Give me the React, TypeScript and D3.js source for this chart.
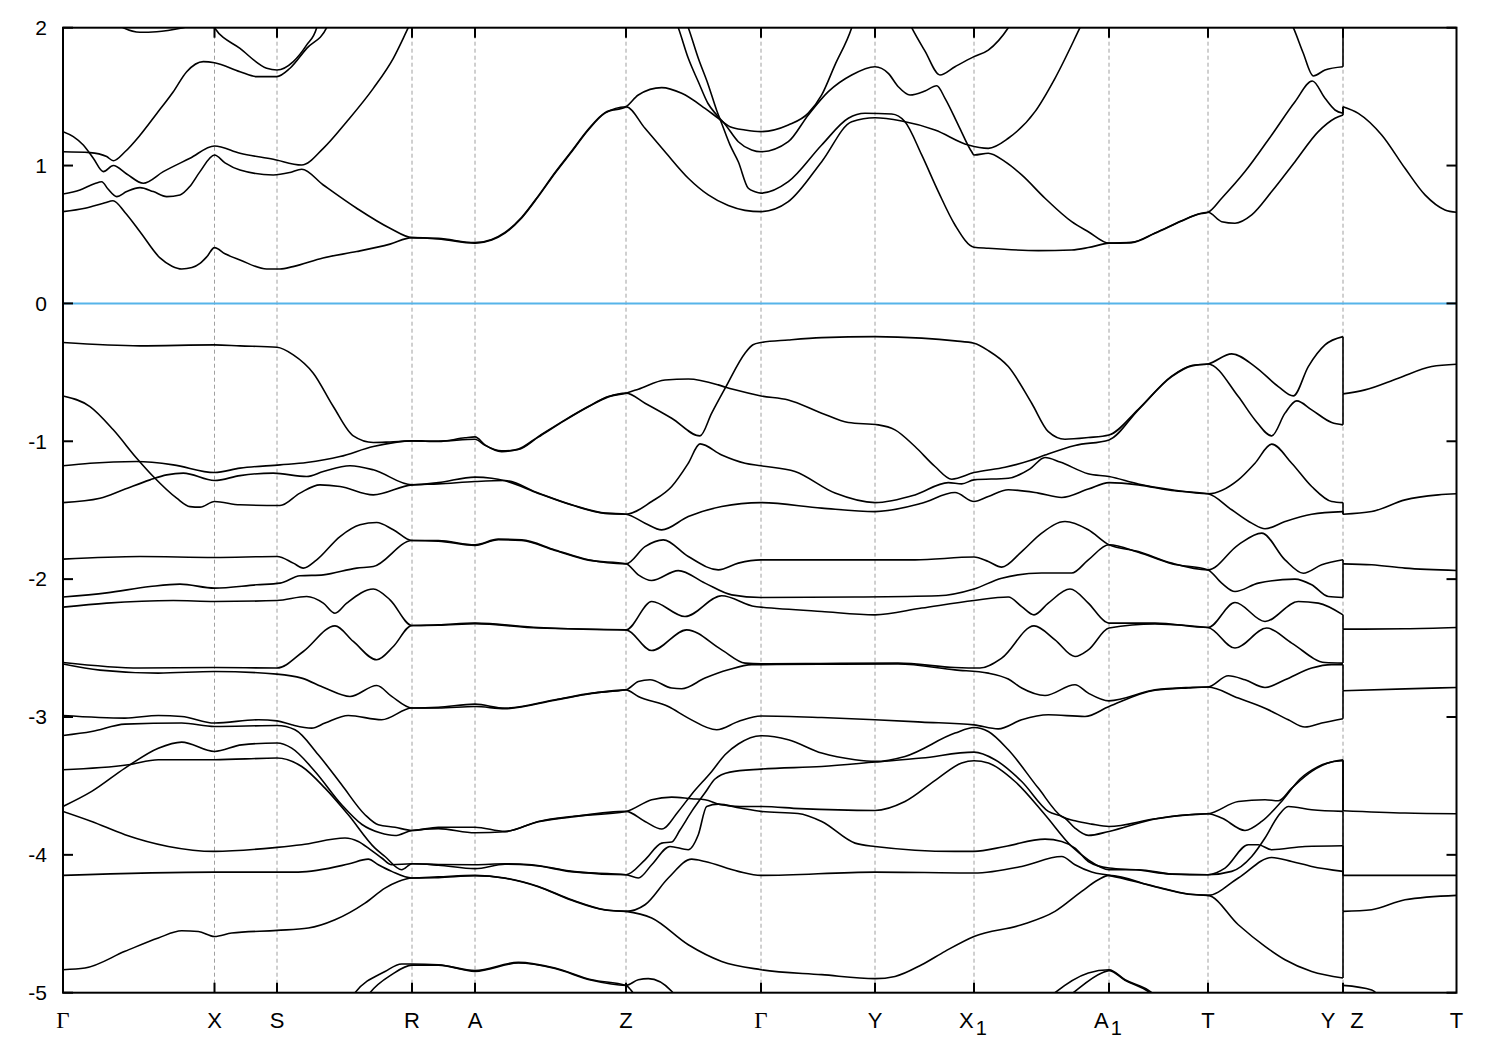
import React from 'react';
import * as d3 from 'd3';

type P = [number, number];

// High-symmetry points along the k-path (path length units)
const kPointPositions = [0, 1.515, 2.14, 3.49, 4.12, 5.63, 6.98, 8.12, 9.11, 10.46, 11.45, 12.8, 13.935];
const kPointLabels = ['Γ', 'X', 'S', 'R', 'A', 'Z', 'Γ', 'Y', 'X_1', 'A_1', 'T', 'Y|Z', 'T'];
const energyTicks = [2, 1, 0, -1, -2, -3, -4, -5];
const energyDomain: [number, number] = [-5, 2];

// Conduction bands (k, E in eV)
const conductionBands: P[][] = [
  [[0,0.666],[0.22,0.69],[0.42,0.73],[0.5,0.745],[0.62,0.66],[0.77,0.52],[0.97,0.33],[1.09,0.27],[1.187,0.25],[1.29,0.26],[1.37,0.29],[1.44,0.34],[1.515,0.405],[1.62,0.36],[1.77,0.315],[2.037,0.25],[2.17,0.25],[2.3,0.267],[2.6,0.33],[2.937,0.376],[3.27,0.43],[3.49,0.477],[3.753,0.468],[4.12,0.437],[4.287,0.46],[4.42,0.51],[4.587,0.62],[4.753,0.775],[4.92,0.944],[5.087,1.1],[5.253,1.258],[5.42,1.38],[5.63,1.427],[5.82,1.27],[6.02,1.1],[6.253,0.908],[6.453,0.787],[6.653,0.71],[6.82,0.675],[6.98,0.666],[7.253,0.738],[7.587,1.028],[7.887,1.318],[8.12,1.347],[8.387,1.323],[8.72,1.258],[9.053,1.149],[9.253,1.125],[9.453,1.198],[9.72,1.391],[9.92,1.633],[10.17,2.0],[10.27,2.15]],
  [[0,0.794],[0.17,0.823],[0.32,0.87],[0.387,0.883],[0.45,0.83],[0.537,0.775],[0.637,0.811],[0.77,0.84],[0.903,0.811],[1.037,0.775],[1.17,0.787],[1.27,0.85],[1.37,0.956],[1.515,1.077],[1.62,1.02],[1.77,0.968],[2.103,0.932],[2.27,0.95],[2.387,0.973],[2.603,0.859],[2.937,0.69],[3.27,0.545],[3.49,0.477],[3.753,0.472],[4.12,0.441],[4.287,0.464],[4.42,0.515],[4.587,0.625],[4.753,0.78],[4.92,0.95],[5.087,1.106],[5.253,1.263],[5.42,1.384],[5.63,1.427],[5.753,1.512],[5.987,1.565],[6.187,1.524],[6.42,1.415],[6.553,1.343],[6.67,1.282],[6.82,1.258],[6.98,1.246],[7.253,1.294],[7.453,1.38],[7.587,1.512],[7.72,1.73],[7.887,2.0],[7.95,2.15]],
  [[6.07,2.15],[6.153,2.0],[6.253,1.778],[6.353,1.608],[6.45,1.45],[6.537,1.367],[6.62,1.3],[6.753,1.173],[6.887,1.113],[6.98,1.1],[7.253,1.173],[7.453,1.367],[7.653,1.536],[7.887,1.657],[8.12,1.717],[8.253,1.669],[8.353,1.572],[8.47,1.512],[8.62,1.541],[8.737,1.579],[8.82,1.488],[8.953,1.294],[9.087,1.1],[9.11,1.077],[9.253,1.089],[9.42,1.028],[9.587,0.932],[9.82,0.763],[10.087,0.593],[10.253,0.52],[10.46,0.437],[10.687,0.441],[10.92,0.509],[11.187,0.598],[11.353,0.647],[11.45,0.661],[11.587,0.763],[11.82,0.956],[12.087,1.222],[12.32,1.463],[12.493,1.613],[12.62,1.488],[12.72,1.403],[12.8,1.379]],
  [[6.17,2.15],[6.253,2.0],[6.353,1.778],[6.453,1.585],[6.537,1.4],[6.59,1.3],[6.67,1.15],[6.753,1.028],[6.853,0.835],[6.92,0.81],[6.98,0.8],[7.253,0.883],[7.587,1.149],[7.853,1.343],[8.02,1.379],[8.287,1.374],[8.42,1.318],[8.587,1.077],[8.753,0.811],[8.92,0.569],[9.11,0.408],[9.253,0.4],[9.753,0.383],[10.087,0.388],[10.253,0.405],[10.46,0.437],[10.687,0.443],[10.92,0.511],[11.187,0.6],[11.353,0.649],[11.45,0.661],[11.587,0.593],[11.72,0.582],[11.887,0.642],[12.087,0.811],[12.32,1.028],[12.553,1.246],[12.72,1.343],[12.8,1.367]],
  [[0,1.246],[0.103,1.21],[0.203,1.149],[0.303,1.053],[0.403,0.956],[0.503,1.0],[0.637,0.939],[0.803,0.872],[1.003,0.956],[1.27,1.053],[1.515,1.142],[1.77,1.089],[2.103,1.046],[2.387,1.004],[2.603,1.125],[2.837,1.318],[3.103,1.56],[3.303,1.778],[3.453,2.0],[3.52,2.1]],
  [[0,1.1],[0.27,1.094],[0.437,1.065],[0.503,1.035],[0.62,1.1],[0.77,1.22],[0.94,1.38],[1.103,1.536],[1.237,1.681],[1.403,1.754],[1.515,1.746],[1.77,1.681],[1.937,1.645],[2.137,1.645],[2.27,1.706],[2.437,1.85],[2.637,2.0],[2.69,2.1]],
  [[1.45,2.08],[1.515,2.0],[1.77,1.85],[2.037,1.706],[2.14,1.693],[2.303,1.754],[2.437,1.875],[2.537,2.0],[2.57,2.1]],
  [[0.55,2.02],[0.603,2.0],[0.77,1.967],[0.937,1.971],[1.203,2.0],[1.27,2.01]],
  [[8.42,2.1],[8.487,2.0],[8.62,1.83],[8.77,1.657],[8.92,1.717],[9.11,1.79],[9.253,1.838],[9.453,2.0],[9.52,2.08]],
  [[12.27,2.05],[12.303,2.0],[12.4,1.82],[12.503,1.65],[12.62,1.693],[12.8,1.717]],
];

// Valence bands (k, E in eV)
const valenceBands: P[][] = [
  [[0,-0.284],[0.77,-0.308],[1.515,-0.301],[1.77,-0.308],[2.14,-0.318],[2.303,-0.373],[2.503,-0.506],[2.703,-0.748],[2.903,-0.961],[3.103,-1.009],[3.27,-1.005],[3.49,-0.997],[3.753,-1.002],[4.02,-0.975],[4.12,-0.968],[4.22,-1.026],[4.387,-1.075],[4.553,-1.057],[4.753,-0.966],[5.02,-0.845],[5.253,-0.748],[5.453,-0.676],[5.63,-0.651],[5.753,-0.622],[6.02,-0.555],[6.253,-0.548],[6.553,-0.591],[6.627,-0.608],[6.72,-0.627],[6.98,-0.671],[7.253,-0.7],[7.587,-0.796],[7.853,-0.864],[8.153,-0.881],[8.32,-0.917],[8.52,-1.038],[8.72,-1.183],[8.887,-1.275],[9.11,-1.227],[9.42,-1.188],[9.67,-1.14],[9.82,-1.1],[10.12,-1.03],[10.46,-0.99],[10.753,-0.772],[11.087,-0.531],[11.287,-0.453],[11.45,-0.439],[11.753,-0.676],[11.92,-0.845],[12.087,-0.961],[12.22,-0.796],[12.337,-0.707],[12.487,-0.772],[12.687,-0.864],[12.8,-0.881]],
  [[0,-0.671],[0.27,-0.748],[0.503,-0.917],[0.737,-1.123],[0.903,-1.256],[1.137,-1.413],[1.27,-1.474],[1.37,-1.478],[1.515,-1.437],[1.77,-1.461],[2.17,-1.466],[2.37,-1.376],[2.57,-1.316],[2.77,-1.328],[3.103,-1.389],[3.49,-1.316],[3.753,-1.309],[4.12,-1.292],[4.42,-1.285],[4.753,-1.376],[5.087,-1.461],[5.42,-1.521],[5.63,-1.529],[5.82,-1.594],[5.987,-1.643],[6.253,-1.546],[6.587,-1.473],[6.98,-1.445],[7.587,-1.485],[8.12,-1.51],[8.587,-1.449],[8.92,-1.372],[9.11,-1.437],[9.253,-1.401],[9.453,-1.352],[9.753,-1.376],[9.987,-1.408],[10.253,-1.347],[10.46,-1.3],[10.753,-1.316],[11.087,-1.357],[11.45,-1.381],[11.687,-1.497],[11.887,-1.594],[12.02,-1.635],[12.22,-1.582],[12.487,-1.529],[12.8,-1.51]],
  [[0,-1.178],[0.27,-1.159],[0.737,-1.147],[1.103,-1.171],[1.515,-1.227],[1.77,-1.195],[2.17,-1.171],[2.437,-1.154],[2.77,-1.111],[3.103,-1.038],[3.49,-0.997],[3.753,-0.998],[4.12,-0.985],[4.22,-1.03],[4.387,-1.07],[4.553,-1.06],[4.753,-0.97],[5.02,-0.848],[5.253,-0.75],[5.453,-0.678],[5.63,-0.651],[5.82,-0.724],[6.087,-0.833],[6.37,-0.961],[6.487,-0.796],[6.627,-0.608],[6.82,-0.361],[6.9,-0.3],[6.98,-0.284],[7.253,-0.265],[7.587,-0.248],[8.12,-0.241],[8.587,-0.252],[8.92,-0.272],[9.11,-0.289],[9.253,-0.342],[9.453,-0.458],[9.687,-0.724],[9.853,-0.93],[10.02,-0.985],[10.253,-0.973],[10.46,-0.954],[10.753,-0.768],[11.087,-0.527],[11.287,-0.45],[11.45,-0.439],[11.687,-0.366],[11.92,-0.458],[12.153,-0.603],[12.303,-0.671],[12.453,-0.458],[12.62,-0.301],[12.8,-0.241]],
  [[0,-1.445],[0.37,-1.413],[0.603,-1.352],[0.87,-1.28],[1.037,-1.244],[1.203,-1.231],[1.515,-1.285],[1.77,-1.249],[2.103,-1.231],[2.437,-1.256],[2.603,-1.22],[2.87,-1.178],[3.103,-1.207],[3.49,-1.316],[3.753,-1.3],[4.12,-1.26],[4.287,-1.268],[4.42,-1.287],[4.753,-1.378],[5.087,-1.463],[5.42,-1.523],[5.63,-1.529],[5.887,-1.437],[6.087,-1.328],[6.253,-1.159],[6.37,-1.019],[6.587,-1.099],[6.82,-1.159],[6.98,-1.178],[7.32,-1.22],[7.72,-1.376],[8.12,-1.445],[8.52,-1.389],[8.853,-1.3],[8.987,-1.309],[9.11,-1.28],[9.453,-1.268],[9.67,-1.2],[9.82,-1.118],[9.97,-1.15],[10.25,-1.235],[10.46,-1.256],[10.753,-1.31],[11.087,-1.352],[11.45,-1.381],[11.753,-1.28],[11.92,-1.159],[12.087,-1.021],[12.287,-1.159],[12.487,-1.328],[12.687,-1.437],[12.8,-1.445]],
  [[0,-1.855],[0.77,-1.836],[1.515,-1.843],[2.14,-1.836],[2.303,-1.884],[2.403,-1.92],[2.537,-1.86],[2.77,-1.691],[2.97,-1.606],[3.137,-1.589],[3.303,-1.642],[3.49,-1.72],[3.753,-1.72],[4.12,-1.751],[4.353,-1.71],[4.587,-1.715],[4.92,-1.788],[5.253,-1.86],[5.63,-1.889],[5.82,-1.764],[6.003,-1.715],[6.253,-1.836],[6.553,-1.933],[6.753,-1.884],[6.98,-1.86],[7.92,-1.86],[8.52,-1.86],[9.11,-1.84],[9.253,-1.872],[9.387,-1.913],[9.587,-1.8],[9.787,-1.666],[10.02,-1.582],[10.253,-1.642],[10.46,-1.751],[10.753,-1.8],[11.087,-1.884],[11.45,-1.933],[11.753,-1.751],[11.987,-1.666],[12.22,-1.86],[12.403,-1.957],[12.587,-1.896],[12.8,-1.86]],
  [[0,-2.13],[0.437,-2.1],[0.87,-2.054],[1.17,-2.036],[1.515,-2.065],[1.937,-2.041],[2.17,-2.029],[2.37,-1.976],[2.603,-1.969],[2.937,-1.92],[3.103,-1.909],[3.49,-1.72],[3.753,-1.724],[4.12,-1.755],[4.353,-1.714],[4.587,-1.72],[4.92,-1.792],[5.253,-1.862],[5.63,-1.889],[5.753,-1.969],[5.887,-2.01],[6.153,-1.938],[6.42,-2.029],[6.687,-2.114],[6.98,-2.133],[7.92,-2.13],[8.753,-2.121],[9.11,-2.072],[9.387,-1.993],[9.787,-1.956],[10.087,-1.956],[10.253,-1.86],[10.46,-1.751],[10.753,-1.805],[11.087,-1.888],[11.45,-1.933],[11.587,-2.029],[11.72,-2.09],[11.953,-2.029],[12.32,-2.0],[12.487,-2.041],[12.653,-2.126],[12.8,-2.133]],
  [[0,-2.203],[0.437,-2.174],[1.103,-2.155],[1.515,-2.162],[2.14,-2.155],[2.437,-2.126],[2.603,-2.174],[2.72,-2.247],[2.837,-2.174],[3.103,-2.072],[3.27,-2.15],[3.49,-2.336],[3.753,-2.331],[4.12,-2.319],[4.753,-2.351],[5.63,-2.368],[5.887,-2.162],[6.22,-2.271],[6.587,-2.121],[6.92,-2.199],[6.98,-2.203],[7.587,-2.235],[8.12,-2.259],[8.587,-2.21],[9.11,-2.155],[9.453,-2.13],[9.587,-2.199],[9.71,-2.259],[9.853,-2.174],[10.07,-2.072],[10.253,-2.174],[10.42,-2.307],[10.46,-2.319],[10.92,-2.319],[11.45,-2.351],[11.72,-2.17],[12.02,-2.307],[12.353,-2.162],[12.553,-2.174],[12.8,-2.259]],
  [[0,-2.605],[0.77,-2.645],[1.515,-2.641],[2.14,-2.645],[2.403,-2.525],[2.72,-2.339],[2.903,-2.452],[3.137,-2.585],[3.303,-2.489],[3.49,-2.336],[3.753,-2.335],[4.12,-2.323],[4.753,-2.355],[5.63,-2.368],[5.887,-2.518],[6.237,-2.368],[6.587,-2.513],[6.82,-2.609],[6.98,-2.615],[7.57,-2.612],[8.35,-2.609],[8.92,-2.641],[9.17,-2.645],[9.387,-2.573],[9.71,-2.339],[9.92,-2.44],[10.12,-2.561],[10.253,-2.513],[10.46,-2.355],[10.92,-2.325],[11.45,-2.351],[11.72,-2.5],[12.037,-2.355],[12.287,-2.464],[12.62,-2.605],[12.8,-2.609]],
  [[0,-2.615],[0.37,-2.66],[0.953,-2.682],[1.515,-2.67],[2.14,-2.689],[2.387,-2.718],[2.62,-2.79],[2.87,-2.851],[3.137,-2.772],[3.287,-2.851],[3.49,-2.935],[3.753,-2.93],[4.12,-2.907],[4.42,-2.936],[4.92,-2.875],[5.287,-2.827],[5.63,-2.803],[5.753,-2.743],[5.87,-2.73],[6.087,-2.79],[6.187,-2.795],[6.42,-2.718],[6.653,-2.658],[6.887,-2.62],[6.98,-2.62],[7.57,-2.618],[8.35,-2.616],[8.92,-2.658],[9.253,-2.682],[9.453,-2.725],[9.587,-2.79],[9.82,-2.844],[10.12,-2.766],[10.253,-2.827],[10.46,-2.883],[10.92,-2.803],[11.253,-2.786],[11.45,-2.783],[11.653,-2.701],[11.82,-2.73],[12.02,-2.786],[12.22,-2.73],[12.487,-2.645],[12.687,-2.62],[12.8,-2.62]],
  [[0,-2.989],[0.62,-3.008],[0.953,-2.989],[1.187,-2.996],[1.515,-3.044],[1.953,-3.02],[2.14,-3.028],[2.287,-3.057],[2.487,-3.081],[2.62,-3.044],[2.853,-2.989],[3.187,-3.02],[3.49,-2.935],[3.753,-2.935],[4.12,-2.924],[4.42,-2.94],[4.92,-2.878],[5.287,-2.83],[5.63,-2.803],[5.753,-2.851],[6.053,-2.924],[6.253,-3.008],[6.537,-3.093],[6.753,-3.033],[6.98,-2.993],[7.587,-3.004],[8.12,-3.02],[8.587,-3.037],[9.11,-3.057],[9.353,-3.086],[9.587,-3.02],[9.853,-2.984],[10.22,-2.996],[10.46,-2.924],[10.92,-2.806],[11.253,-2.789],[11.45,-2.783],[11.753,-2.863],[12.02,-2.936],[12.253,-3.02],[12.42,-3.073],[12.587,-3.044],[12.8,-3.013]],
  [[0,-3.134],[0.287,-3.105],[0.62,-3.052],[1.187,-3.044],[1.515,-3.069],[2.14,-3.062],[2.32,-3.093],[2.553,-3.274],[2.787,-3.492],[3.02,-3.709],[3.153,-3.782],[3.32,-3.8],[3.49,-3.823],[3.753,-3.8],[4.12,-3.8],[4.42,-3.83],[4.753,-3.758],[5.087,-3.722],[5.63,-3.685],[5.887,-3.6],[6.087,-3.581],[6.287,-3.593],[6.42,-3.6],[6.57,-3.635],[6.77,-3.65],[6.98,-3.649],[7.37,-3.665],[8.12,-3.678],[8.42,-3.613],[8.753,-3.443],[8.987,-3.334],[9.11,-3.318],[9.253,-3.334],[9.52,-3.468],[9.82,-3.709],[10.087,-3.939],[10.253,-4.036],[10.46,-4.108],[10.753,-4.108],[11.087,-4.139],[11.45,-4.144],[11.62,-4.096],[11.853,-3.927],[11.953,-3.927],[12.087,-3.963],[12.42,-3.939],[12.8,-3.934]],
  [[0,-3.383],[0.653,-3.347],[0.953,-3.31],[1.515,-3.31],[2.14,-3.298],[2.387,-3.359],[2.62,-3.516],[2.853,-3.709],[3.12,-3.951],[3.22,-4.012],[3.387,-4.108],[3.49,-4.065],[3.753,-4.07],[4.12,-4.072],[4.42,-4.065],[4.687,-4.072],[5.087,-4.12],[5.63,-4.144],[5.82,-4.036],[5.987,-3.915],[6.087,-3.907],[6.17,-3.82],[6.287,-3.685],[6.42,-3.55],[6.52,-3.45],[6.67,-3.4],[6.98,-3.378],[7.587,-3.359],[8.12,-3.327],[8.587,-3.298],[9.11,-3.255],[9.32,-3.31],[9.587,-3.468],[9.853,-3.685],[10.02,-3.733],[10.12,-3.806],[10.253,-3.859],[10.46,-3.83],[10.92,-3.74],[11.253,-3.71],[11.45,-3.702],[11.587,-3.733],[11.82,-3.823],[11.987,-3.758],[12.2,-3.6],[12.37,-3.45],[12.55,-3.36],[12.8,-3.31]],
  [[0,-3.649],[0.287,-3.54],[0.62,-3.371],[0.953,-3.226],[1.187,-3.182],[1.515,-3.25],[1.787,-3.202],[2.14,-3.189],[2.287,-3.226],[2.52,-3.395],[2.787,-3.637],[2.99,-3.78],[3.17,-3.84],[3.32,-3.86],[3.49,-3.823],[3.753,-3.81],[4.12,-3.84],[4.42,-3.832],[4.753,-3.76],[5.087,-3.725],[5.63,-3.685],[5.82,-3.758],[5.987,-3.813],[6.153,-3.685],[6.287,-3.56],[6.487,-3.395],[6.62,-3.274],[6.753,-3.196],[6.98,-3.136],[7.253,-3.165],[7.587,-3.262],[7.92,-3.31],[8.12,-3.322],[8.42,-3.286],[8.92,-3.117],[9.11,-3.076],[9.253,-3.105],[9.453,-3.238],[9.753,-3.516],[9.987,-3.722],[10.12,-3.753],[10.287,-3.777],[10.46,-3.794],[10.92,-3.738],[11.253,-3.709],[11.45,-3.702],[11.753,-3.613],[12.02,-3.6],[12.153,-3.608],[12.287,-3.516],[12.487,-3.395],[12.687,-3.327],[12.8,-3.318]],
  [[0,-3.685],[0.287,-3.758],[0.62,-3.854],[1.053,-3.939],[1.515,-3.975],[2.14,-3.946],[2.387,-3.927],[2.82,-3.878],[2.953,-3.903],[3.07,-3.96],[3.187,-4.023],[3.287,-4.072],[3.49,-4.065],[3.753,-4.075],[4.12,-4.1],[4.42,-4.068],[4.687,-4.075],[5.087,-4.122],[5.63,-4.144],[5.753,-4.168],[5.887,-4.072],[6.07,-3.939],[6.253,-3.963],[6.353,-3.854],[6.437,-3.649],[6.553,-3.632],[6.77,-3.66],[6.98,-3.685],[7.35,-3.7],[7.587,-3.758],[7.92,-3.915],[8.12,-3.939],[8.92,-3.975],[9.11,-3.975],[9.42,-3.939],[9.82,-3.886],[9.987,-3.903],[10.12,-3.951],[10.253,-4.048],[10.46,-4.096],[10.753,-4.11],[11.087,-4.14],[11.45,-4.144],[11.687,-4.12],[11.887,-4.012],[12.02,-3.878],[12.15,-3.72],[12.253,-3.649],[12.487,-3.673],[12.8,-3.685]],
  [[0,-4.149],[1.515,-4.125],[2.353,-4.125],[2.853,-4.067],[3.053,-4.031],[3.153,-4.072],[3.287,-4.12],[3.49,-4.168],[3.753,-4.16],[4.12,-4.149],[4.42,-4.168],[4.753,-4.229],[5.087,-4.326],[5.42,-4.398],[5.63,-4.41],[5.82,-4.362],[6.053,-4.168],[6.287,-4.031],[6.42,-4.048],[6.753,-4.12],[6.98,-4.149],[8.12,-4.125],[9.11,-4.132],[9.587,-4.084],[9.987,-4.012],[10.12,-4.072],[10.287,-4.125],[10.46,-4.149],[10.92,-4.229],[11.253,-4.284],[11.45,-4.294],[11.753,-4.168],[12.087,-4.019],[12.287,-4.048],[12.487,-4.084],[12.8,-4.12]],
  [[0,-4.833],[0.22,-4.821],[0.62,-4.7],[0.953,-4.603],[1.187,-4.551],[1.353,-4.556],[1.515,-4.592],[1.687,-4.567],[2.14,-4.548],[2.453,-4.531],[2.72,-4.471],[3.02,-4.35],[3.22,-4.241],[3.353,-4.193],[3.49,-4.168],[3.753,-4.165],[4.12,-4.152],[4.42,-4.17],[4.753,-4.232],[5.087,-4.33],[5.42,-4.4],[5.63,-4.41],[5.887,-4.458],[6.253,-4.652],[6.587,-4.773],[6.98,-4.833],[7.587,-4.869],[8.12,-4.898],[8.32,-4.882],[8.587,-4.797],[8.82,-4.7],[9.11,-4.592],[9.587,-4.507],[9.92,-4.41],[10.187,-4.265],[10.353,-4.181],[10.46,-4.149],[10.92,-4.232],[11.253,-4.286],[11.45,-4.294],[11.753,-4.507],[12.02,-4.664],[12.22,-4.761],[12.487,-4.846],[12.8,-4.893]],
  [[2.87,-5.05],[2.92,-5.0],[3.22,-4.846],[3.387,-4.792],[3.49,-4.792],[3.753,-4.797],[4.12,-4.84],[4.553,-4.78],[4.92,-4.821],[5.287,-4.906],[5.63,-4.947],[5.687,-4.988],[5.73,-5.04]],
  [[3.02,-5.05],[3.07,-5.0],[3.287,-4.869],[3.49,-4.8],[3.753,-4.8],[4.12,-4.845],[4.553,-4.785],[4.92,-4.825],[5.287,-4.91],[5.63,-4.947],[5.753,-4.906],[5.853,-4.898],[6.087,-4.99],[6.13,-5.03]],
  [[9.87,-5.03],[9.92,-5.0],[10.253,-4.857],[10.46,-4.833],[10.62,-4.906],[10.887,-5.0],[10.93,-5.03]],
  [[10.05,-5.03],[10.103,-5.0],[10.387,-4.857],[10.46,-4.84],[10.62,-4.91],[10.87,-5.0],[10.92,-5.03]],
];

// Bands along the final Z–T segment
const zToTBands: P[][] = [
  [[12.8,1.427],[12.953,1.379],[13.187,1.222],[13.42,0.98],[13.62,0.787],[13.82,0.678],[13.935,0.661]],
  [[12.8,-0.656],[13.02,-0.627],[13.353,-0.542],[13.687,-0.458],[13.935,-0.441]],
  [[12.8,-1.529],[13.087,-1.51],[13.42,-1.425],[13.753,-1.389],[13.935,-1.381]],
  [[12.8,-1.889],[13.087,-1.896],[13.42,-1.92],[13.935,-1.937]],
  [[12.8,-2.363],[13.42,-2.36],[13.935,-2.351]],
  [[12.8,-2.81],[13.42,-2.796],[13.935,-2.786]],
  [[12.8,-3.68],[13.42,-3.697],[13.935,-3.702]],
  [[12.8,-4.149],[13.42,-4.149],[13.935,-4.149]],
  [[12.8,-4.41],[13.087,-4.398],[13.42,-4.326],[13.935,-4.294]],
  [[12.8,-4.947],[13.087,-4.98],[13.17,-5.03]],
];

// Band jumps at the Y|Z break: [E at Y, E at Z]
const yzJumps: P[] = [
  [-0.241,-0.656],[-0.881,-0.656],[-1.445,-1.529],[-1.51,-1.529],[-1.86,-1.889],[-2.133,-1.889],
  [-2.259,-2.363],[-2.609,-2.363],[-2.62,-2.81],[-3.013,-2.81],[-3.31,-3.68],[-3.318,-3.68],
  [-3.685,-4.149],[-3.934,-4.149],[-4.12,-4.41],[-4.893,-4.41],[-5.1,-4.947],
  [1.379,1.427],[1.367,1.427],[1.717,2.2],
];

const W = 1500, H = 1050;
const L = 63, R = 1456.5, T = 27.7, B = 992.7;

export default function App() {
  const x = d3.scaleLinear().domain([kPointPositions[0], kPointPositions[kPointPositions.length - 1]]).range([L, R]);
  const y = d3.scaleLinear().domain(energyDomain).range([B, T]);
  const line = d3.line<P>().x(d => x(d[0])).y(d => y(d[1])).curve(d3.curveMonotoneX);
  const font = '"Liberation Sans", Arial, sans-serif';
  const breakK = kPointPositions[11];
  const allBands = [...conductionBands, ...valenceBands, ...zToTBands];

  const renderLabel = (lab: string, k: number, i: number) => {
    const cx = x(k);
    const yb = 1028;
    if (lab === 'Γ') {
      return <text key={i} x={cx} y={yb} textAnchor="middle" fontFamily='"Liberation Serif", "DejaVu Serif", serif' fontSize={23}>Γ</text>;
    }
    if (lab.includes('|')) {
      const [a, b] = lab.split('|');
      return (
        <g key={i}>
          <text x={cx - 15} y={yb} textAnchor="middle" fontFamily={font} fontSize={22}>{a}</text>
          <text x={cx + 14} y={yb} textAnchor="middle" fontFamily={font} fontSize={22}>{b}</text>
        </g>
      );
    }
    if (lab.includes('_')) {
      const [a, b] = lab.split('_');
      return (
        <text key={i} x={cx - 1} y={yb} textAnchor="middle" fontFamily={font} fontSize={22}>
          {a}<tspan dx={2} dy={7} fontSize={20}>{b}</tspan>
        </text>
      );
    }
    return <text key={i} x={cx} y={yb} textAnchor="middle" fontFamily={font} fontSize={22}>{lab}</text>;
  };

  return (
    <svg width={W} height={H} style={{ position: 'absolute', left: 0, top: 0, background: '#fff' }}>
      <rect x={0} y={0} width={W} height={H} fill="#fff" />
      <defs>
        <clipPath id="plotClip">
          <rect x={L} y={T} width={R - L} height={B - T} />
        </clipPath>
      </defs>
      {kPointPositions.slice(1, -1).map((k, i) => (
        <line key={i} x1={x(k)} x2={x(k)} y1={T} y2={B} stroke="#a0a0a0" strokeWidth={1} strokeDasharray="4,3" />
      ))}
      <line x1={L} x2={R} y1={y(0)} y2={y(0)} stroke="#56b4e9" strokeWidth={2} />
      <g clipPath="url(#plotClip)">
        {allBands.map((b, i) => (
          <path key={i} d={line(b) || ''} fill="none" stroke="#000" strokeWidth={1.6} strokeLinejoin="round" />
        ))}
        {yzJumps.map((j, i) => (
          <line key={'j' + i} x1={x(breakK)} x2={x(breakK)} y1={y(j[0])} y2={y(j[1])} stroke="#000" strokeWidth={1.6} />
        ))}
      </g>
      <rect x={L} y={T} width={R - L} height={B - T} fill="none" stroke="#000" strokeWidth={2} />
      {kPointPositions.slice(1, -1).map((k, i) => (
        <g key={i}>
          <line x1={x(k)} x2={x(k)} y1={T} y2={T + 10} stroke="#000" strokeWidth={2} />
          <line x1={x(k)} x2={x(k)} y1={B} y2={B - 10} stroke="#000" strokeWidth={2} />
        </g>
      ))}
      {energyTicks.map((e, i) => (
        <g key={i}>
          <line x1={L} x2={L + 10} y1={y(e)} y2={y(e)} stroke="#000" strokeWidth={2} />
          <line x1={R} x2={R - 10} y1={y(e)} y2={y(e)} stroke="#000" strokeWidth={2} />
          <text x={47} y={y(e)} dy="0.35em" textAnchor="end" fontFamily={font} fontSize={21}>{e}</text>
        </g>
      ))}
      {kPointLabels.map((lab, i) => renderLabel(lab, kPointPositions[i], i))}
    </svg>
  );
}
